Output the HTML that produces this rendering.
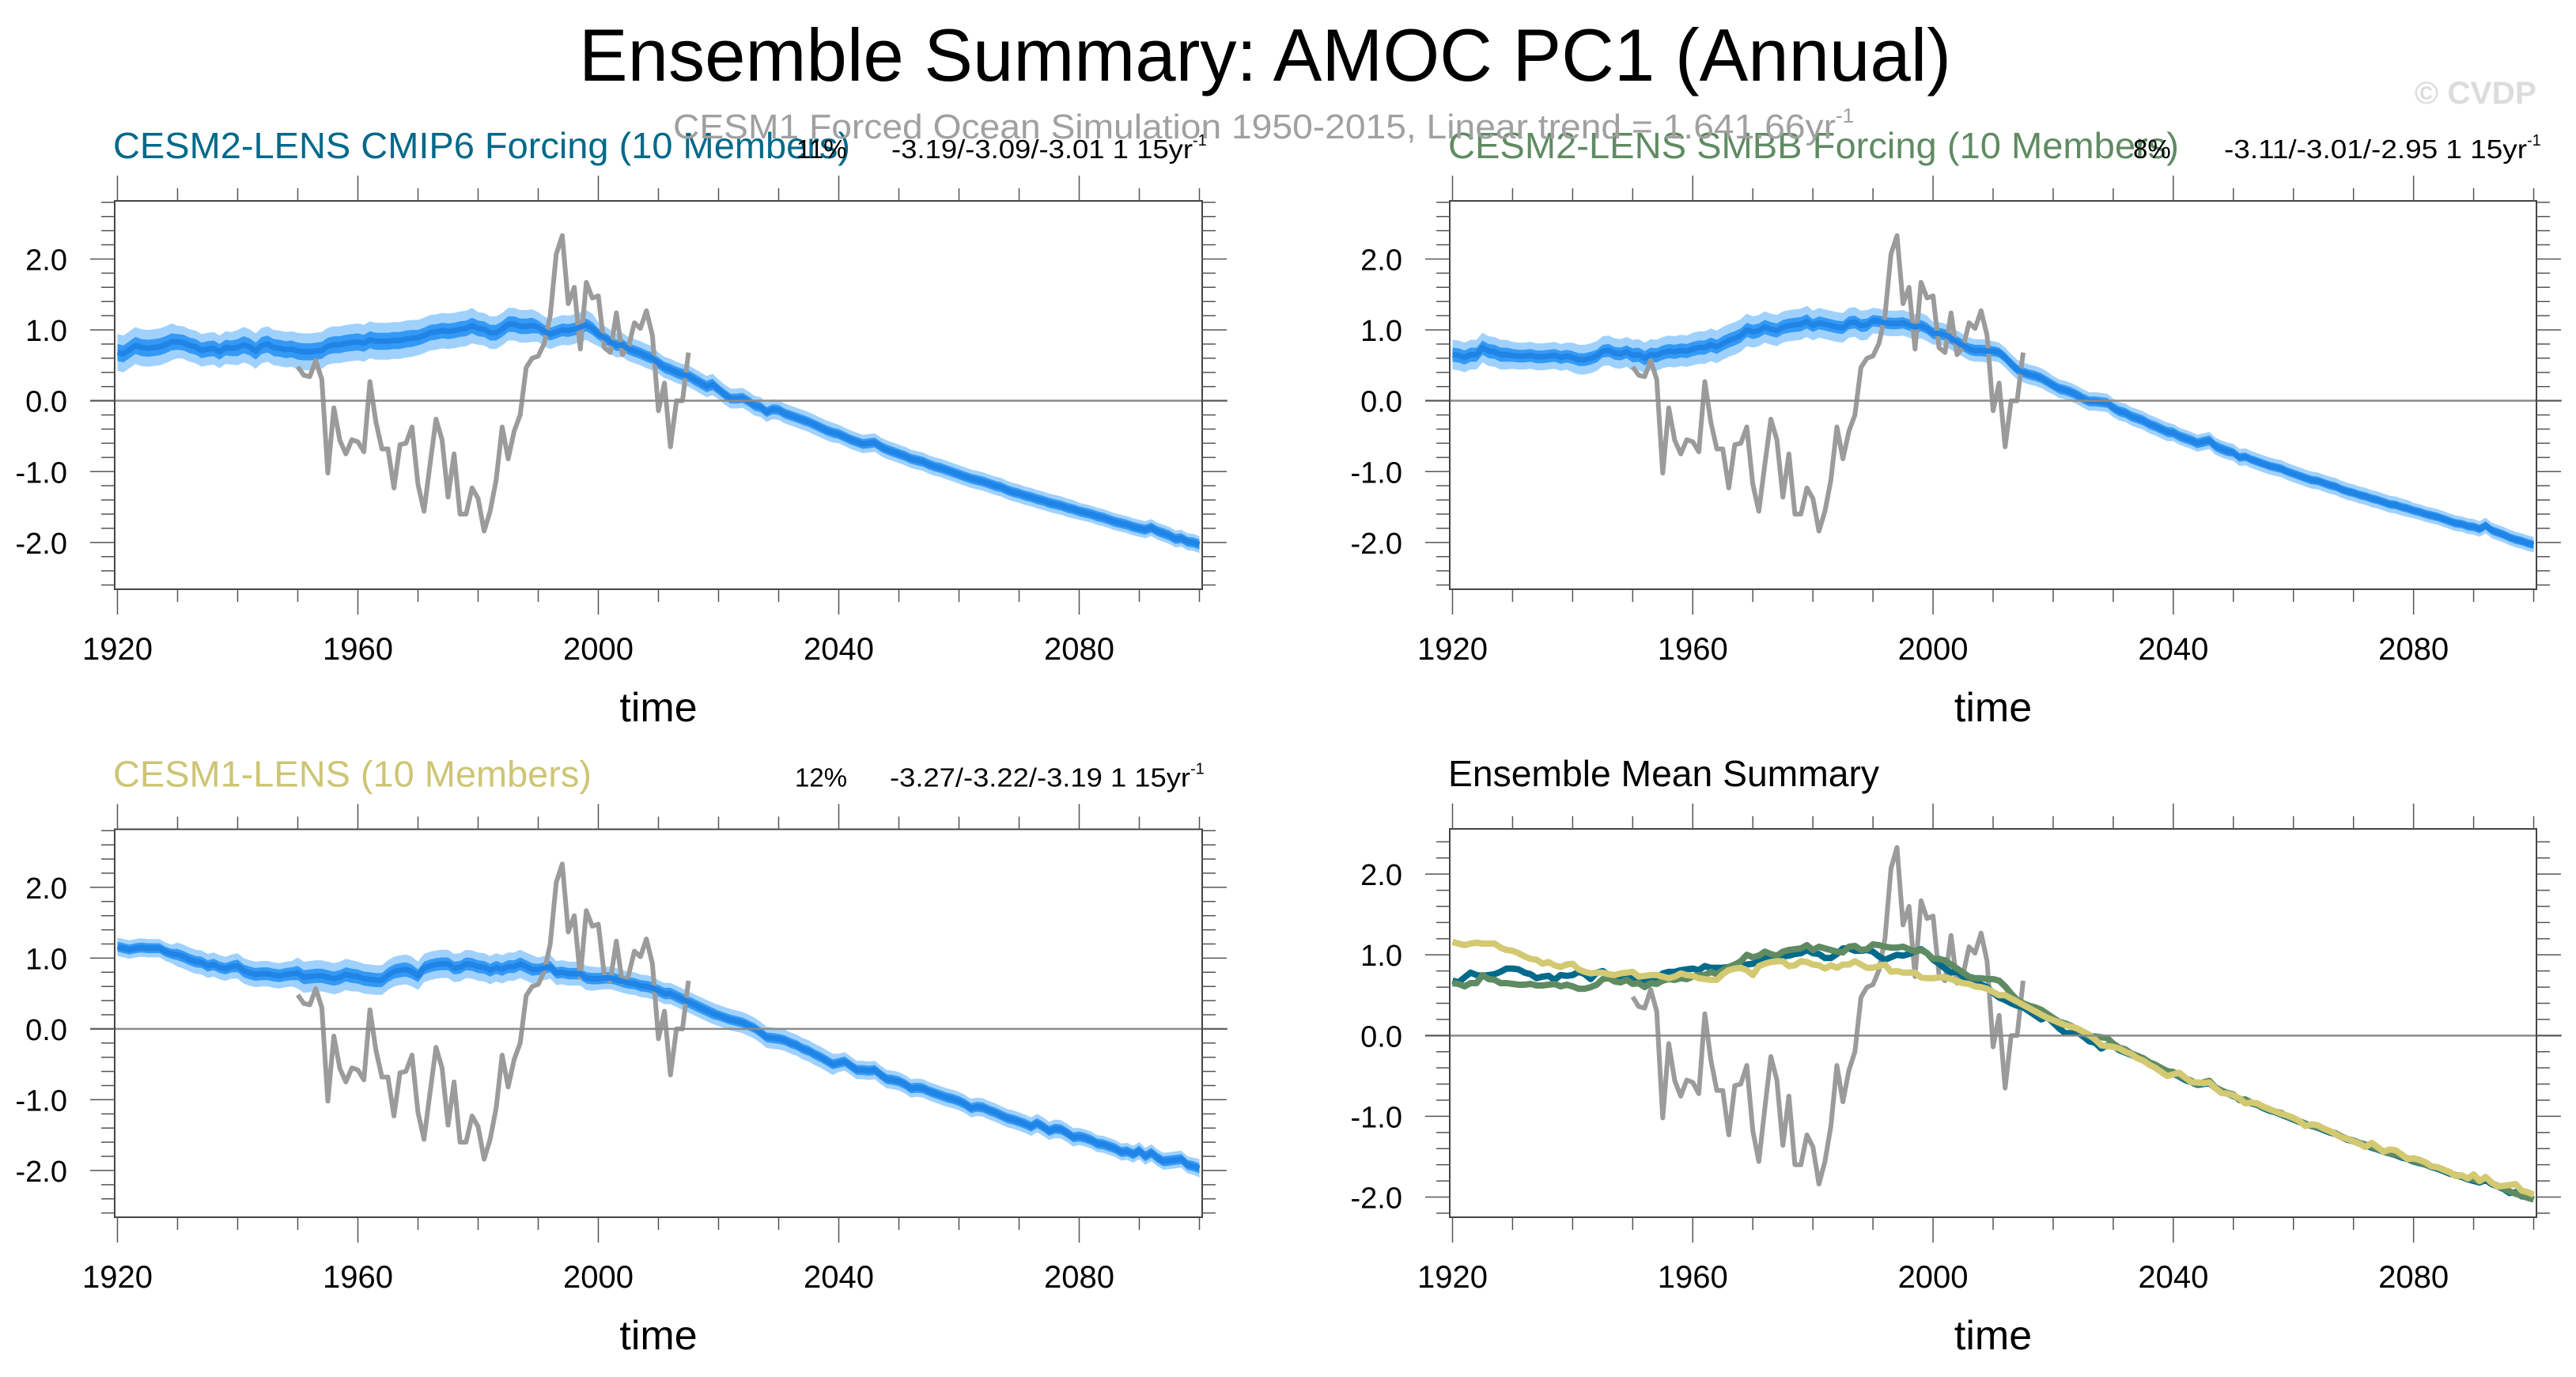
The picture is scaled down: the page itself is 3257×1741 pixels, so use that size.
<!DOCTYPE html>
<html><head><meta charset="utf-8"><title>Ensemble Summary: AMOC PC1 (Annual)</title>
<style>html,body{margin:0;padding:0;background:#fff}svg{display:block;font-family:"Liberation Sans",Arial,sans-serif}</style>
</head><body>
<svg id="chart" width="3257" height="1741" viewBox="0 0 3257 1741" xmlns="http://www.w3.org/2000/svg">
<rect width="3257" height="1741" fill="#fff"/>
<text x="732" y="102" font-size="94" textLength="1735" lengthAdjust="spacingAndGlyphs">Ensemble Summary: AMOC PC1 (Annual)</text>
<text x="3053" y="131" font-size="40" font-weight="bold" fill="#dcdcdc" textLength="154" lengthAdjust="spacingAndGlyphs">© CVDP</text>
<g id="panels"></g>
<text x="851" y="175" font-size="44" fill="#a0a0a0"><tspan textLength="1470" lengthAdjust="spacingAndGlyphs">CESM1 Forced Ocean Simulation 1950-2015, Linear trend = 1.641.66yr</tspan><tspan font-size="26" dy="-20">-1</tspan></text>
</svg>
<script>
// ---- data ----
const years = [];
for (let y = 1920; y <= 2100; y++) years.push(y);
const obsStartYear = 1950;
const obsValues = [0.48,0.36,0.34,0.57,0.30,-1.02,-0.10,-0.56,-0.75,-0.55,
-0.58,-0.72,0.27,-0.30,-0.68,-0.68,-1.23,-0.62,-0.60,-0.37,
-1.18,-1.56,-0.90,-0.26,-0.55,-1.36,-0.75,-1.60,-1.60,-1.23,
-1.38,-1.84,-1.56,-1.12,-0.37,-0.82,-0.43,-0.20,0.47,0.60,
0.63,0.81,1.20,2.07,2.33,1.37,1.60,0.73,1.67,1.45,
1.48,0.75,0.68,1.24,0.65,0.75,1.10,1.02,1.27,0.92,
-0.14,0.25,-0.65,0.00,0.00,0.68];
const cmip6Mean = [0.68,0.66,0.72,0.78,0.75,0.74,0.75,0.76,0.79,0.83,
0.83,0.82,0.78,0.76,0.71,0.73,0.74,0.69,0.75,0.74,
0.75,0.79,0.76,0.70,0.78,0.80,0.75,0.74,0.72,0.73,
0.70,0.69,0.69,0.70,0.71,0.77,0.79,0.79,0.81,0.82,
0.83,0.81,0.86,0.84,0.84,0.84,0.85,0.85,0.87,0.88,
0.89,0.92,0.96,0.97,0.99,0.98,0.99,1.01,1.02,1.06,
1.02,1.01,0.96,0.96,1.01,1.08,1.08,1.05,1.05,1.06,
1.04,0.98,0.94,0.97,1.00,0.99,1.01,1.04,1.07,1.02,
0.94,0.89,0.83,0.78,0.79,0.73,0.70,0.67,0.63,0.60,
0.53,0.47,0.44,0.40,0.37,0.35,0.30,0.25,0.20,0.23,
0.16,0.09,0.03,0.03,0.04,-0.01,-0.07,-0.09,-0.16,-0.12,
-0.13,-0.18,-0.21,-0.24,-0.27,-0.30,-0.34,-0.38,-0.42,-0.45,
-0.47,-0.51,-0.55,-0.58,-0.61,-0.60,-0.59,-0.65,-0.69,-0.72,
-0.75,-0.78,-0.82,-0.84,-0.86,-0.90,-0.93,-0.95,-0.98,-1.01,
-1.04,-1.07,-1.10,-1.12,-1.14,-1.17,-1.20,-1.22,-1.26,-1.29,
-1.31,-1.34,-1.36,-1.39,-1.41,-1.44,-1.46,-1.48,-1.51,-1.53,
-1.56,-1.58,-1.60,-1.63,-1.65,-1.68,-1.71,-1.73,-1.75,-1.78,
-1.80,-1.82,-1.79,-1.84,-1.87,-1.90,-1.95,-1.94,-1.99,-2.00,-2.03];
const smbbMean = [0.65,0.64,0.61,0.65,0.65,0.75,0.70,0.69,0.65,0.65,
0.64,0.63,0.63,0.64,0.62,0.62,0.63,0.64,0.61,0.63,
0.61,0.58,0.58,0.60,0.63,0.70,0.71,0.67,0.66,0.69,
0.64,0.65,0.60,0.65,0.64,0.68,0.70,0.69,0.71,0.70,
0.73,0.75,0.75,0.79,0.76,0.81,0.85,0.88,0.92,1.00,
0.97,0.99,1.04,1.01,0.99,1.04,1.06,1.07,1.08,1.12,
1.06,1.10,1.08,1.06,1.04,1.03,1.10,1.11,1.06,1.07,
1.13,1.12,1.10,1.09,1.09,1.10,1.07,1.04,1.06,1.02,
0.95,0.95,0.93,0.88,0.83,0.78,0.73,0.71,0.71,0.70,
0.70,0.68,0.61,0.52,0.44,0.40,0.37,0.35,0.32,0.27,
0.22,0.17,0.15,0.12,0.08,0.03,-0.01,-0.01,-0.02,-0.03,
-0.10,-0.15,-0.17,-0.22,-0.25,-0.28,-0.33,-0.36,-0.40,-0.44,
-0.45,-0.50,-0.53,-0.56,-0.60,-0.58,-0.56,-0.64,-0.68,-0.71,
-0.73,-0.80,-0.79,-0.83,-0.86,-0.89,-0.92,-0.94,-0.96,-1.00,
-1.03,-1.06,-1.09,-1.12,-1.13,-1.16,-1.19,-1.21,-1.25,-1.28,
-1.30,-1.33,-1.35,-1.38,-1.40,-1.43,-1.46,-1.47,-1.50,-1.52,
-1.55,-1.57,-1.60,-1.62,-1.64,-1.67,-1.70,-1.73,-1.74,-1.77,
-1.78,-1.81,-1.76,-1.83,-1.86,-1.89,-1.93,-1.96,-1.98,-2.01,-2.03];
const cesm1Mean = [1.16,1.14,1.12,1.14,1.15,1.14,1.14,1.14,1.09,1.06,
1.05,1.02,0.98,0.95,0.94,0.89,0.91,0.87,0.85,0.88,
0.89,0.82,0.79,0.77,0.78,0.78,0.76,0.75,0.77,0.78,
0.79,0.73,0.74,0.75,0.75,0.73,0.71,0.73,0.77,0.75,
0.74,0.71,0.70,0.69,0.69,0.76,0.81,0.83,0.84,0.81,
0.75,0.86,0.89,0.91,0.92,0.92,0.86,0.87,0.92,0.91,
0.88,0.87,0.83,0.87,0.84,0.88,0.88,0.92,0.88,0.84,
0.84,0.86,0.88,0.79,0.80,0.78,0.78,0.78,0.72,0.71,
0.71,0.72,0.72,0.70,0.67,0.65,0.64,0.61,0.60,0.58,
0.54,0.50,0.50,0.46,0.42,0.38,0.34,0.30,0.26,0.22,
0.19,0.16,0.13,0.11,0.09,0.05,0.01,-0.05,-0.12,-0.13,
-0.14,-0.16,-0.20,-0.23,-0.28,-0.31,-0.36,-0.40,-0.45,-0.50,
-0.48,-0.46,-0.52,-0.58,-0.58,-0.59,-0.58,-0.65,-0.71,-0.72,
-0.74,-0.78,-0.84,-0.83,-0.84,-0.88,-0.91,-0.94,-0.97,-0.99,
-1.02,-1.06,-1.12,-1.10,-1.11,-1.15,-1.18,-1.22,-1.26,-1.28,
-1.31,-1.34,-1.38,-1.33,-1.38,-1.44,-1.41,-1.42,-1.47,-1.53,
-1.52,-1.54,-1.57,-1.62,-1.63,-1.66,-1.69,-1.74,-1.73,-1.77,
-1.72,-1.80,-1.75,-1.82,-1.87,-1.86,-1.85,-1.84,-1.92,-1.94,-1.97];
// ensemble spread half-widths per decade (1920s ... 2090s, 2100)
const cmip6Outer = [0.26,0.23,0.25,0.26,0.26,0.25,0.23,0.21,0.17,0.15,0.14,0.14,0.13,0.13,0.13,0.13,0.12,0.12,0.12];
const cmip6Inner = [0.12,0.11,0.12,0.12,0.12,0.11,0.11,0.09,0.08,0.08,0.07,0.07,0.07,0.07,0.07,0.07,0.07,0.07,0.07];
const smbbOuter = [0.21,0.19,0.21,0.22,0.23,0.22,0.21,0.18,0.16,0.14,0.13,0.13,0.12,0.12,0.12,0.12,0.11,0.11,0.11];
const smbbInner = [0.10,0.09,0.09,0.10,0.10,0.10,0.09,0.08,0.08,0.07,0.07,0.07,0.07,0.06,0.06,0.06,0.06,0.06,0.06];
const cesm1Outer = [0.13,0.17,0.18,0.22,0.21,0.20,0.20,0.17,0.16,0.15,0.15,0.15,0.13,0.13,0.13,0.13,0.12,0.12,0.13];
const cesm1Inner = [0.07,0.08,0.09,0.10,0.10,0.09,0.09,0.08,0.08,0.08,0.07,0.07,0.07,0.07,0.07,0.07,0.07,0.07,0.07];
const xMajorTicks = [1920,1960,2000,2040,2080];
const xTickLabels = ["1920","1960","2000","2040","2080"];
const yMajorTicks = [2,1,0,-1,-2];
const yTickLabels = ["2.0","1.0","0.0","-1.0","-2.0"];

const NS = "http://www.w3.org/2000/svg";
const root = document.getElementById('panels');
function mk(tag, attrs, parent) {
  const e = document.createElementNS(NS, tag);
  for (const k in attrs) e.setAttribute(k, attrs[k]);
  (parent || root).appendChild(e);
  return e;
}
const panels = [
  {id:'cmip6', x:145, y:254, w:1375, h:491, yMin:-2.66, yMax:2.82, title:'CESM2-LENS CMIP6 Forcing (10 Members)', tColor:'#00698a', tLen:932, pct:'11%', pctX:1007, trend:'-3.19/-3.09/-3.01 1 15yr', trX:1127, trLen:381, mean:cmip6Mean, outer:cmip6Outer, inner:cmip6Inner},
  {id:'smbb', x:1833, y:254, w:1374, h:491, yMin:-2.66, yMax:2.82, title:'CESM2-LENS SMBB Forcing (10 Members)', tColor:'#5f8b62', tLen:924, pct:'8%', pctX:2697, trend:'-3.11/-3.01/-2.95 1 15yr', trX:2812, trLen:383, mean:smbbMean, outer:smbbOuter, inner:smbbInner},
  {id:'cesm1', x:145, y:1048.5, w:1375, h:490.5, yMin:-2.66, yMax:2.82, title:'CESM1-LENS (10 Members)', tColor:'#cdc574', tLen:605, pct:'12%', pctX:1005, trend:'-3.27/-3.22/-3.19 1 15yr', trX:1125, trLen:380, mean:cesm1Mean, outer:cesm1Outer, inner:cesm1Inner},
  {id:'summary', x:1833, y:1048, w:1374, h:491, yMin:-2.25, yMax:2.56, title:'Ensemble Mean Summary', tColor:'#000', tLen:545}
];
const X0 = 1919.54, X1 = 2100.46;

panels.forEach(p => {
  const g = mk('g', {});
  
  
  const sx = v => p.x + (v - X0) / (X1 - X0) * p.w;
  const sy = v => p.y + (p.yMax - v) / (p.yMax - p.yMin) * p.h;
  const bottom = p.y + p.h, right = p.x + p.w;
  const cp = mk('clipPath', {id:'clip-' + p.id}, g);
  mk('rect', {x:p.x, y:p.y, width:p.w, height:p.h}, cp);
  const plot = mk('g', {'clip-path':'url(#clip-' + p.id + ')'}, g);

  if (p.mean) {
    const band = (hw, color, name) => {
      let up = [], dn = [];
      years.forEach((yr, i) => {
        const d = hw[Math.min(18, Math.floor((yr - 1920) / 10))];
        up.push(sx(yr).toFixed(1) + ',' + sy(p.mean[i] + d).toFixed(1));
        dn.push(sx(yr).toFixed(1) + ',' + sy(p.mean[i] - d).toFixed(1));
      });
      const poly = mk('polygon', {points: up.concat(dn.reverse()).join(' '), fill: color}, plot);
      
      
    };
    band(p.outer, '#a0d1fd', 'ensemble-range-band');
    band(p.inner, '#3399f5', 'ensemble-inner-band');
  }
  const zl = mk('line', {x1:p.x - 31, x2:right + 32, y1:sy(0), y2:sy(0), stroke:'#8a8a8a', 'stroke-width':2.5}, g);
  
  
  const obsPts = obsValues.map((v, i) => sx(obsStartYear + i).toFixed(1) + ',' + sy(v).toFixed(1)).join(' ');
  const obs = mk('polyline', {points: obsPts, fill:'none', stroke:'#9b9b9b', 'stroke-width':6, 'stroke-linejoin':'round'}, plot);
  
  
  const line = (arr, color, w, name) => {
    const pts = arr.map((v, i) => sx(years[i]).toFixed(1) + ',' + sy(v).toFixed(1)).join(' ');
    const l = mk('polyline', {points: pts, fill:'none', stroke: color, 'stroke-width': w, 'stroke-linejoin':'round'}, plot);
    
    
  };
  if (p.mean) {
    line(p.mean, '#1f84e6', 7, 'ensemble-mean-line');
  } else {
    line(cmip6Mean, '#006a8c', 8, 'cmip6-mean-line');
    line(smbbMean, '#5f8b62', 8, 'smbb-mean-line');
    line(cesm1Mean, '#d2c972', 8, 'cesm1-mean-line');
  }
  const box = mk('rect', {x:p.x, y:p.y, width:p.w, height:p.h, fill:'none', stroke:'#444', 'stroke-width':2}, g);
  
  
  for (let yr = 1920; yr <= 2100; yr += 10) {
    const major = (yr - 1920) % 40 === 0;
    const L = major ? 32 : 16;
    const x = sx(yr);
    mk('line', {x1:x, x2:x, y1:p.y, y2:p.y - L, stroke:'#555', 'stroke-width':1.5}, g);
    mk('line', {x1:x, x2:x, y1:bottom, y2:bottom + L, stroke:'#555', 'stroke-width':1.5}, g);
  }
  xMajorTicks.forEach((yr, i) => {
    const t = mk('text', {x:sx(yr), y:bottom + 89, 'font-size':40, 'text-anchor':'middle'}, g);
    t.textContent = xTickLabels[i];
    
    
  });
  const start = Math.ceil(p.yMin / 0.2 - 1e-6), end = Math.floor(p.yMax / 0.2 + 1e-6);
  for (let k = start; k <= end; k++) {
    const v = k * 0.2;
    const major = k % 5 === 0;
    const L = major ? 31 : 17;
    const y = sy(v);
    mk('line', {x1:p.x, x2:p.x - L, y1:y, y2:y, stroke:'#555', 'stroke-width':1.5}, g);
    mk('line', {x1:right, x2:right + L, y1:y, y2:y, stroke:'#555', 'stroke-width':1.5}, g);
  }
  yMajorTicks.forEach((v, i) => {
    const t = mk('text', {x:p.x - 60, y:sy(v) + 14, 'font-size':38, 'text-anchor':'end'}, g);
    t.textContent = yTickLabels[i];
    
    
  });
  const at = mk('text', {x:p.x + p.w / 2, y:bottom + 167, 'font-size':52, 'text-anchor':'middle'}, g);
  at.textContent = 'time';
  
  
  const tt = mk('text', {x:p.x - 2, y:p.y - 54, 'font-size':46, fill:p.tColor, textLength:p.tLen, lengthAdjust:'spacingAndGlyphs'}, g);
  tt.textContent = p.title;
  
  
  if (p.pct) {
    const pc = mk('text', {x:p.pctX, y:p.y - 54, 'font-size':33}, g);
    pc.textContent = p.pct;
    
    
    const tr = mk('text', {x:p.trX, y:p.y - 54, 'font-size':33}, g);
    
    
    const s1 = mk('tspan', {textLength:p.trLen, lengthAdjust:'spacingAndGlyphs'}, tr);
    s1.textContent = p.trend;
    const s2 = mk('tspan', {'font-size':20, dy:-16}, tr);
    s2.textContent = '-1';
  }
});
</script>
</body></html>
